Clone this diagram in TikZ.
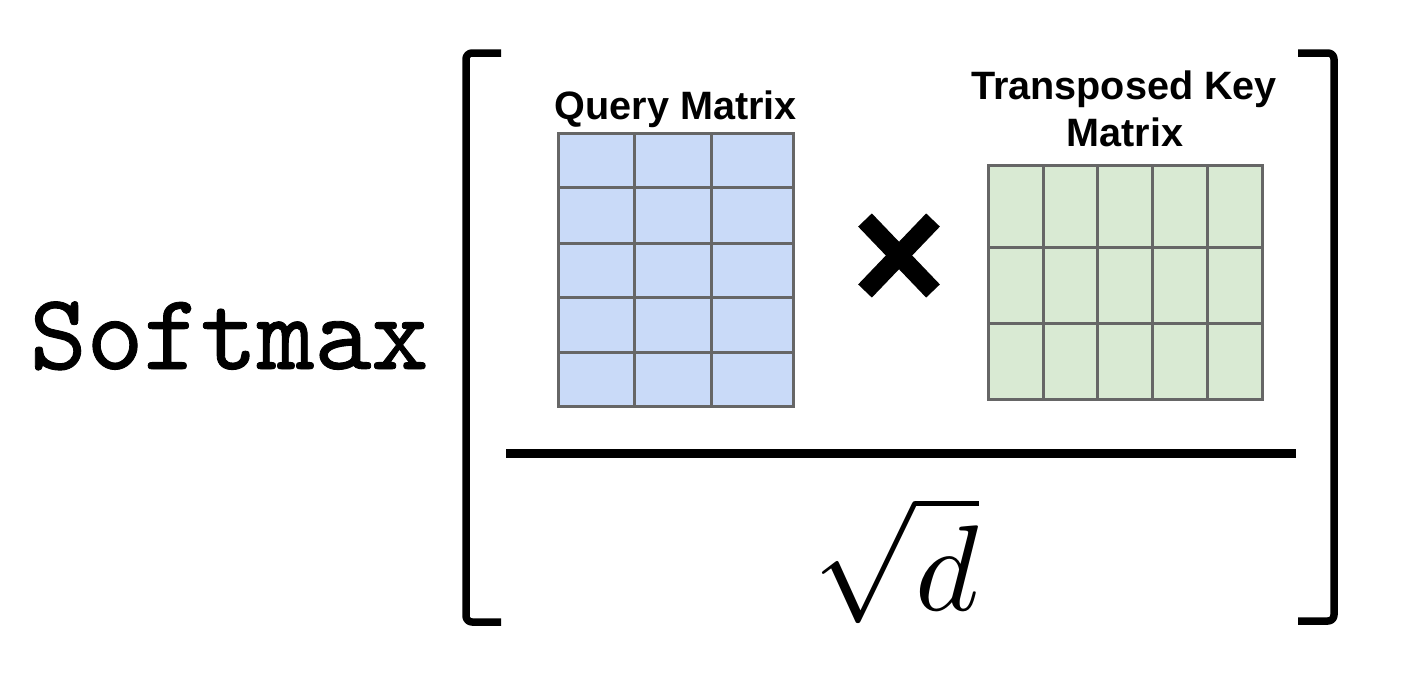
\documentclass[tikz,border=0pt]{standalone}
\usepackage{fontspec}
\newfontfamily\labfont{Liberation Sans}
\newfontfamily\smfont[FakeBold=0.8]{lmmono10-regular.otf}
\definecolor{qblue}{HTML}{C9DAF8}
\definecolor{kgreen}{HTML}{D9EAD3}
\definecolor{gridgray}{HTML}{666666}
\tikzset{
  bracket/.style={line width=7.5pt, rounded corners=6pt, line cap=butt, line join=round},
  gridline/.style={draw=gridgray, line width=3pt},
  label/.style={font=\labfont\bfseries\fontsize{39.6}{47}\selectfont, inner sep=0pt, anchor=base},
  cross/.style={line width=19pt, line cap=butt}
}
\begin{document}
\begin{tikzpicture}[x=1pt,y=-1pt]
\useasboundingbox (0,0) rectangle (1402,680);
\fill[white] (0,0) rectangle (1402,680);
% Softmax
\node[inner sep=0pt, anchor=base, font=\smfont\fontsize{108.5}{112}\selectfont] (softmax) at (229,369) {Softmax};
% brackets
\draw[bracket] (501,53) -- (466,53) -- (466,622) -- (501,622);
\draw[bracket] (1298,53) -- (1334,53) -- (1334,621) -- (1298,621);
% fraction bar
\coordinate (fl) at (506,453);
\coordinate (fr) at (1296,453);
\draw[line width=9pt] (fl) -- (fr);
% query matrix
\node[label] (qlabel) at (676,119) {Query Matrix};
\filldraw[gridline, fill=qblue] (558,133) rectangle (793,406);
\foreach \x in {634,711} \draw[gridline] (\x,133) -- (\x,406);
\foreach \y in {187,243,297,352} \draw[gridline] (558,\y) -- (793,\y);
% times
\draw[cross] (865,220) -- (933,291);
\draw[cross] (933,220) -- (865,291);
% key matrix
\node[label] (klabel1) at (1124,99) {Transposed Key};
\node[label] (klabel2) at (1125,146) {Matrix};
\filldraw[gridline, fill=kgreen] (988,165) rectangle (1262,399);
\foreach \x in {1043,1097,1152,1207} \draw[gridline] (\x,165) -- (\x,399);
\foreach \y in {247,323} \draw[gridline] (988,\y) -- (1262,\y);
% sqrt d
\node[inner sep=0pt, anchor=base, scale=12.2] (sqrtd) at (896,610) {$\sqrt{d}$};
\end{tikzpicture}
\end{document}
